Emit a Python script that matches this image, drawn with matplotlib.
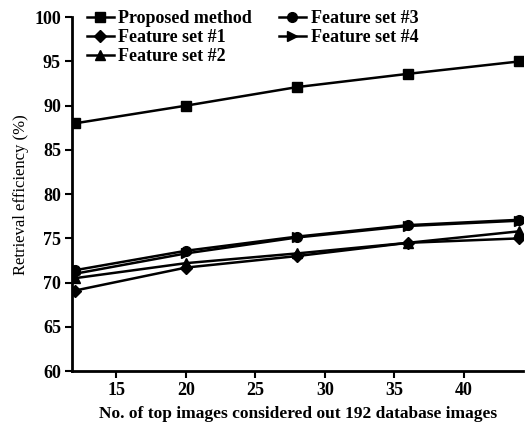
import matplotlib
matplotlib.use("Agg")
import matplotlib.pyplot as plt

plt.rcParams['font.family'] = ['Liberation Serif', 'DejaVu Serif']
plt.rcParams['font.weight'] = 'bold'

top_images = [12, 20, 28, 36, 44]
proposed = [88.0, 90.0, 92.1, 93.6, 95.0]
feature1 = [69.1, 71.7, 73.0, 74.5, 75.0]
feature2 = [70.5, 72.2, 73.3, 74.5, 75.8]
feature3 = [71.4, 73.6, 75.2, 76.5, 77.1]
feature4 = [71.0, 73.3, 75.1, 76.4, 77.0]

fig = plt.figure(figsize=(5.26, 4.30), dpi=100)
ax = fig.add_axes([0.137, 0.137, 0.858, 0.823])

ax.plot(top_images, proposed, color='black', lw=1.8, marker='s', ms=7, label='Proposed method')
ax.plot(top_images, feature1, color='black', lw=1.8, marker='D', ms=6, label='Feature set #1')
ax.plot(top_images, feature2, color='black', lw=1.8, marker='^', ms=7, label='Feature set #2')
ax.plot(top_images, feature3, color='black', lw=1.8, marker='o', ms=7, label='Feature set #3')
ax.plot(top_images, feature4, color='black', lw=1.8, marker='>', ms=7, label='Feature set #4')

ax.set_xlim(11.8, 44.3)
ax.set_ylim(60, 100)
ax.set_xticks([15, 20, 25, 30, 35, 40])
ax.set_yticks(range(60, 101, 5))
ax.spines['top'].set_visible(False)
ax.spines['right'].set_visible(False)
ax.spines['left'].set_linewidth(2)
ax.spines['bottom'].set_linewidth(2)
ax.tick_params(width=1.5, length=5, labelsize=13, pad=3)
for lbl in ax.get_xticklabels() + ax.get_yticklabels():
    lbl.set_fontweight('bold')

ax.set_xlabel('No. of top images considered out 192 database images', fontsize=12.5, fontweight='bold', labelpad=5)
ax.set_ylabel('Retrieval efficiency (%)', fontsize=12, fontweight='normal', labelpad=4)

handles, labels = ax.get_legend_handles_labels()
ax.legend(handles, labels, loc='upper left', ncol=2, frameon=False, fontsize=13,
          handlelength=1.5, handletextpad=0.25, columnspacing=1.5, labelspacing=0.1,
          borderaxespad=0.1, bbox_to_anchor=(0.012, 1.045))

fig.savefig('out.png', dpi=100)
